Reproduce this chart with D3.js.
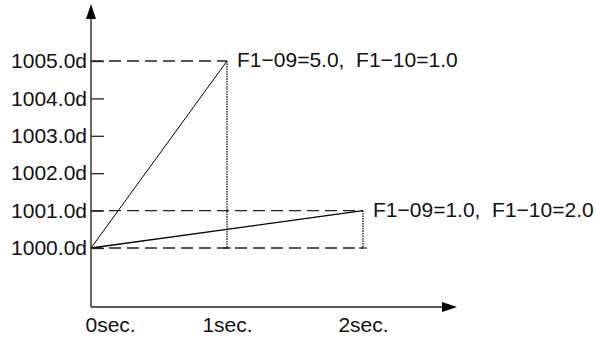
<!DOCTYPE html>
<html>
<head>
<meta charset="utf-8">
<script src="https://cdn.jsdelivr.net/npm/d3@7"></script>
<style>
  html, body { margin: 0; padding: 0; background: #fff; }
  svg { display: block; }
  text { font-family: "Liberation Sans", Arial, sans-serif; }
</style>
</head>
<body>
<svg id="chart" width="595" height="340"></svg>
<script>
// ---- data ----
const yTickValues = [1000, 1001, 1002, 1003, 1004, 1005];
const yTickLabels = ["1000.0d", "1001.0d", "1002.0d", "1003.0d", "1004.0d", "1005.0d"];
const xTickValues = [0, 1, 2];
const xTickLabels = ["0sec.", "1sec.", "2sec."];
const fastTimes = [0, 1];
const fastValues = [1000, 1005];
const slowTimes = [0, 2];
const slowValues = [1000, 1001];
const fastLabel = "F1\u221209=5.0,  F1\u221210=1.0";
const slowLabel = "F1\u221209=1.0,  F1\u221210=2.0";
const dashedLevels = [1005, 1001, 1000];

// ---- layout ----
const svg = d3.select("#chart");
const x0 = 91, xAxisY = 307, yTop = 4, xRight = 457;
const x = d3.scaleLinear().domain([0, 2]).range([91, 363]);
const y = d3.scaleLinear().domain([1000, 1005]).range([248, 61]);
const fontSize = 21;

// dashed reference lines
const fastEnd = x(fastTimes[1]);
const slowEnd = x(slowTimes[1]);
const dashedEnds = { 1005: fastEnd, 1001: slowEnd, 1000: slowEnd };
svg.append("g").selectAll("line").data(dashedLevels).join("line")
  .attr("x1", x0).attr("x2", d => dashedEnds[d])
  .attr("y1", d => y(d)).attr("y2", d => y(d))
  .attr("stroke", "#222").attr("stroke-width", 1.3)
  .attr("stroke-dasharray", "12,6");

// dotted verticals
const verticals = [
  { t: fastTimes[1], top: fastValues[1], bottom: 1000 },
  { t: slowTimes[1], top: slowValues[1], bottom: 1000 }
];
const vg = svg.append("g");
vg.selectAll("line.v").data(verticals).join("line").attr("class", "v")
  .attr("x1", d => x(d.t)).attr("x2", d => x(d.t))
  .attr("y1", d => y(d.top)).attr("y2", d => y(d.bottom))
  .attr("stroke", "#000").attr("stroke-width", 1.2)
  .attr("stroke-dasharray", "1.5,1");
vg.selectAll("line.cap").data(verticals).join("line").attr("class", "cap")
  .attr("x1", d => x(d.t) - 4).attr("x2", d => x(d.t) + 4)
  .attr("y1", d => y(d.bottom)).attr("y2", d => y(d.bottom))
  .attr("stroke", "#222").attr("stroke-width", 1.2);

// series lines
const line = d3.line().x(d => x(d[0])).y(d => y(d[1]));
svg.append("path").datum(fastTimes.map((t, i) => [t, fastValues[i]]))
  .attr("d", line).attr("fill", "none").attr("stroke", "#000").attr("stroke-width", 1);
svg.append("path").datum(slowTimes.map((t, i) => [t, slowValues[i]]))
  .attr("d", line).attr("fill", "none").attr("stroke", "#000").attr("stroke-width", 1.3);

// y axis (ticks pointing right, labels left)
const yAxis = d3.axisLeft(y).tickValues(yTickValues)
  .tickFormat((d, i) => yTickLabels[i])
  .tickSize(-13).tickPadding(4);
const gy = svg.append("g").attr("transform", `translate(${x0},0)`).call(yAxis);
gy.select(".domain").remove();
gy.selectAll(".tick line").attr("stroke", "#222").attr("stroke-width", 1.3);
gy.selectAll(".tick text").attr("font-size", fontSize).attr("fill", "#111")
  .attr("font-family", "'Liberation Sans', Arial, sans-serif");

// x axis labels
const xAxis = d3.axisBottom(x).tickValues(xTickValues)
  .tickFormat((d, i) => xTickLabels[i]).tickSize(0).tickPadding(10);
const gx = svg.append("g").attr("transform", `translate(0,${xAxisY})`).call(xAxis);
gx.select(".domain").remove();
gx.selectAll(".tick text").attr("font-size", fontSize).attr("fill", "#111")
  .attr("font-family", "'Liberation Sans', Arial, sans-serif")
  .attr("text-anchor", (d, i) => i === 0 ? "start" : "middle")
  .attr("dx", (d, i) => i === 0 ? -6 : 0);

// axis lines with arrows
svg.append("line").attr("x1", x0).attr("x2", x0).attr("y1", xAxisY).attr("y2", yTop + 12)
  .attr("stroke", "#333").attr("stroke-width", 1.5);
svg.append("line").attr("x1", x0).attr("x2", xRight - 12).attr("y1", xAxisY).attr("y2", xAxisY)
  .attr("stroke", "#222").attr("stroke-width", 1.5);
svg.append("path")
  .attr("d", `M${x0},${yTop} L${x0 - 5},${yTop + 15} L${x0 + 5},${yTop + 15} Z`)
  .attr("fill", "#000");
svg.append("path")
  .attr("d", `M${xRight},${xAxisY} L${xRight - 15},${xAxisY - 5} L${xRight - 15},${xAxisY + 5} Z`)
  .attr("fill", "#000");

// annotations
svg.append("text").attr("x", fastEnd + 10).attr("y", y(fastValues[1]) + 6)
  .attr("font-size", fontSize).attr("fill", "#111").style("white-space", "pre")
  .text(fastLabel);
svg.append("text").attr("x", slowEnd + 10).attr("y", y(slowValues[1]) + 6)
  .attr("font-size", fontSize).attr("fill", "#111").style("white-space", "pre")
  .text(slowLabel);
</script>
</body>
</html>
